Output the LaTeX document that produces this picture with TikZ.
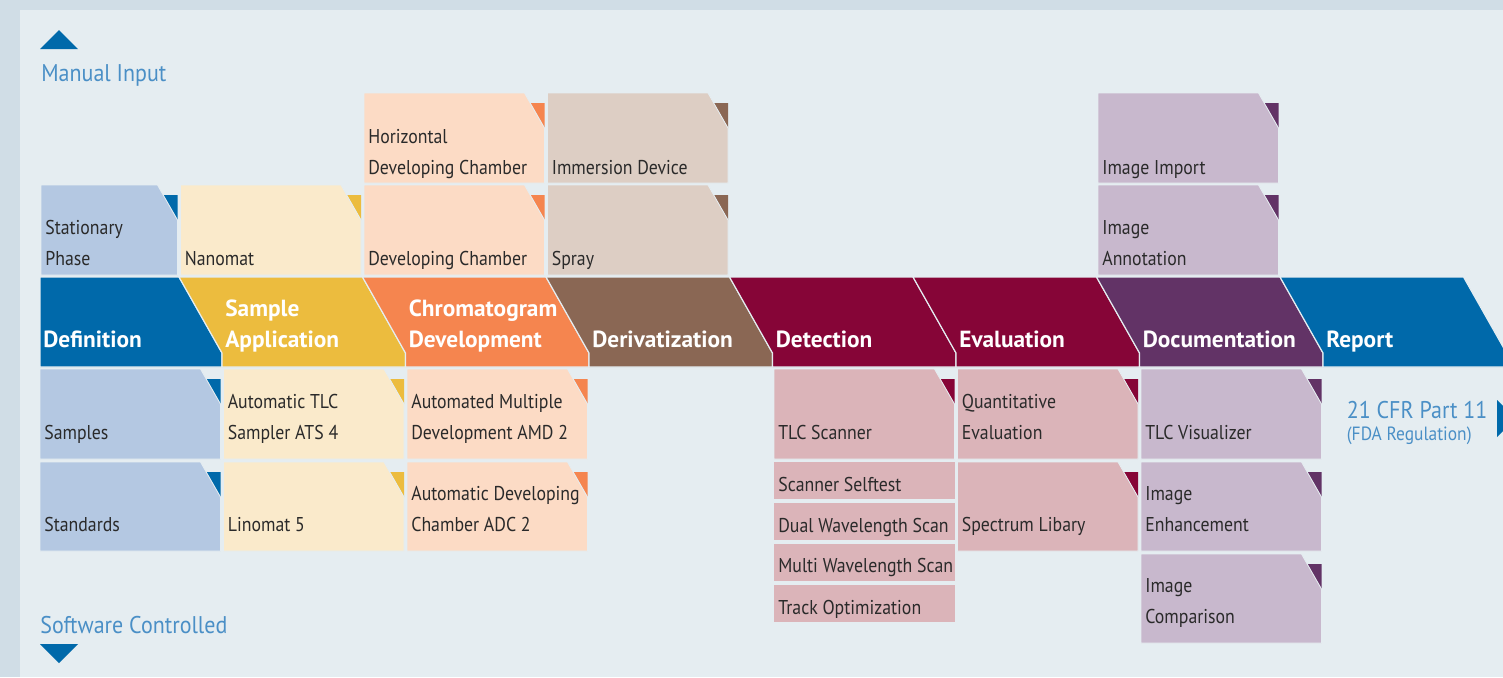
\documentclass[tikz,border=0pt]{standalone}
\usepackage{fontspec}
\setmainfont[FakeStretch=0.89]{PT Sans}
\newfontfamily\stagefont[FakeStretch=1.0]{PT Sans}
\newfontfamily\sidefont[FakeStretch=0.91]{PT Sans}
\usetikzlibrary{positioning, calc}

\definecolor{outerbg}{HTML}{D0DDE6}
\definecolor{panel}{HTML}{E5EDF1}
\definecolor{txt}{HTML}{2A2A2A}
\definecolor{lab}{HTML}{4A8FC6}
\definecolor{defD}{HTML}{0069AA}
\definecolor{defL}{HTML}{B4C8E2}
\definecolor{samD}{HTML}{ECBC3E}
\definecolor{samL}{HTML}{FAEACB}
\definecolor{chrD}{HTML}{F5854F}
\definecolor{chrL}{HTML}{FCDBC5}
\definecolor{derD}{HTML}{8A6754}
\definecolor{derL}{HTML}{DDCEC4}
\definecolor{detD}{HTML}{860537}
\definecolor{detL}{HTML}{DBB4B9}
\definecolor{docD}{HTML}{623366}
\definecolor{docL}{HTML}{C8B8CD}

% box with cut corner: left, top, right, bottom, colour family
\newcommand{\cutbox}[5]{%
  \fill[#5D] (#3-14.3,#2+10) -- (#3,#2+10) -- (#3,#2+35) -- cycle;
  \filldraw[#5L, draw=panel, line width=0.5pt] (#1,#2) -- (#3-20,#2) -- (#3,#2+35) -- (#3,#4) -- (#1,#4) -- cycle;
}
% stage of the process band: left x, right x, colour
\newcommand{\stage}[3]{%
  \filldraw[#3, draw=panel, line width=0.7pt] (#1,367) -- (#1,353) -- (#1-43,277) -- (#2-43,277) -- (#2,353) -- (#2,367) -- cycle;
}

\begin{document}
\begin{tikzpicture}[
    x=0.6pt, y=-0.6pt,
    boxtext/.style={anchor=base west, inner sep=0pt, align=left, text=txt, font=\fontsize{12}{18.6}\selectfont},
    stagetext/.style={anchor=base west, inner sep=0pt, align=left, text=white, font=\stagefont\fontsize{14}{18.4}\selectfont\bfseries},
    sidetext/.style={anchor=base west, inner sep=0pt, text=lab, font=\sidefont\fontsize{14.5}{17}\selectfont}
]
\useasboundingbox (0,0) rectangle (1503,677);
\clip (0,0) rectangle (1503,677);

% background
\fill[outerbg] (0,0) rectangle (1503,677);
\fill[panel] (20,10) rectangle (1503,677);

% Manual input / software controlled
\fill[defD] (40,49) -- (78,49) -- (59,30) -- cycle;
\node[sidetext] (manual) at (41,81.7) {Manual Input};
\node[sidetext] (software) at (40,633.3) {Software Controlled};
\fill[defD] (40,644) -- (78,644) -- (59,663) -- cycle;

% process band
\filldraw[defD, draw=panel, line width=0.7pt] (40,367) -- (40,277) -- (179,277) -- (222,353) -- (222,367) -- cycle;
\stage{222}{405.5}{samD}
\stage{405.5}{589}{chrD}
\stage{589}{772.5}{derD}
\stage{772.5}{956}{detD}
\stage{956}{1139.5}{detD}
\stage{1139.5}{1323}{docD}
\stage{1323}{1506.5}{defD}

\node[stagetext] (definition) at (43,347.3) {Definition};
\node[stagetext] (sampleapp) at (225,347.3) {Sample\\Application};
\node[stagetext] (chromdev) at (408.5,347.3) {Chromatogram\\Development};
\node[stagetext] (derivat) at (592,347.3) {Derivatization};
\node[stagetext] (detection) at (775.5,347.3) {Detection};
\node[stagetext] (evaluation) at (959,347.3) {Evaluation};
\node[stagetext] (documentation) at (1142.5,347.3) {Documentation};
\node[stagetext] (report) at (1326,347.3) {Report};

% manual input boxes (above the band)
\cutbox{41}{185}{177.5}{275}{def}
\cutbox{180.5}{185}{361}{275}{sam}
\cutbox{364}{93}{544.5}{183}{chr}
\cutbox{364}{185}{544.5}{275}{chr}
\cutbox{547.5}{93}{728}{183}{der}
\cutbox{547.5}{185}{728}{275}{der}
\cutbox{1098}{93}{1278.5}{183}{doc}
\cutbox{1098}{185}{1278.5}{275}{doc}

\node[boxtext] (stationary) at (45,265.7) {Stationary\\Phase};
\node[boxtext] (nanomat) at (184.5,265.7) {Nanomat};
\node[boxtext] (horizontal) at (368,174) {Horizontal\\Developing Chamber};
\node[boxtext] (devchamber) at (368,265.7) {Developing Chamber};
\node[boxtext] (immersion) at (551.5,174) {Immersion Device};
\node[boxtext] (spray) at (551.5,265.7) {Spray};
\node[boxtext] (imgimport) at (1102,174) {Image Import};
\node[boxtext] (imgannot) at (1102,265.7) {Image\\Annotation};

% software controlled boxes (below the band)
\cutbox{40}{369}{220.5}{459}{def}
\cutbox{40}{462}{220.5}{551}{def}
\cutbox{223.5}{369}{404}{459}{sam}
\cutbox{223.5}{462}{404}{551}{sam}
\cutbox{407}{369}{587.5}{459}{chr}
\cutbox{407}{462}{587.5}{551}{chr}
\cutbox{774}{369}{954.5}{459}{det}
\fill[detL] (774,462) rectangle (954.5,499);
\fill[detL] (774,503) rectangle (954.5,540);
\fill[detL] (774,544) rectangle (954.5,581);
\fill[detL] (774,585) rectangle (954.5,622);
\cutbox{957.5}{369}{1138}{459}{det}
\cutbox{957.5}{462}{1138}{551}{det}
\cutbox{1141}{369}{1321.5}{459}{doc}
\cutbox{1141}{462}{1321.5}{551}{doc}
\cutbox{1141}{554}{1321.5}{643}{doc}

\node[boxtext] (samples) at (44,439.5) {Samples};
\node[boxtext] (standards) at (44,531.5) {Standards};
\node[boxtext] (ats) at (227.5,439.5) {Automatic TLC\\Sampler ATS 4};
\node[boxtext] (linomat) at (227.5,531.5) {Linomat 5};
\node[boxtext] (amd) at (411,439.5) {Automated Multiple\\Development AMD 2};
\node[boxtext] (adc) at (411,531.5) {Automatic Developing\\Chamber ADC 2};
\node[boxtext] (scanner) at (778,439.5) {TLC Scanner};
\node[boxtext] (selftest) at (778,491) {Scanner Selftest};
\node[boxtext] (dualscan) at (778,532.3) {Dual Wavelength Scan};
\node[boxtext] (multiscan) at (778,572.7) {Multi Wavelength Scan};
\node[boxtext] (trackopt) at (778,614) {Track Optimization};
\node[boxtext] (quant) at (961.5,439.5) {Quantitative\\Evaluation};
\node[boxtext] (spectrum) at (961.5,531.5) {Spectrum Libary};
\node[boxtext] (visualizer) at (1145,439.5) {TLC Visualizer};
\node[boxtext] (enhance) at (1145,531.5) {Image\\Enhancement};
\node[boxtext] (compare) at (1145,623.5) {Image\\Comparison};

% report
\node[sidetext] (cfr) at (1346.5,418.3) {21 CFR Part 11};
\node[sidetext, font=\sidefont\fontsize{11.5}{14}\selectfont] (fda) at (1346.5,440) {(FDA Regulation)};
\fill[defD] (1497,400) -- (1497,437) -- (1516,418.5) -- cycle;

\end{tikzpicture}
\end{document}
